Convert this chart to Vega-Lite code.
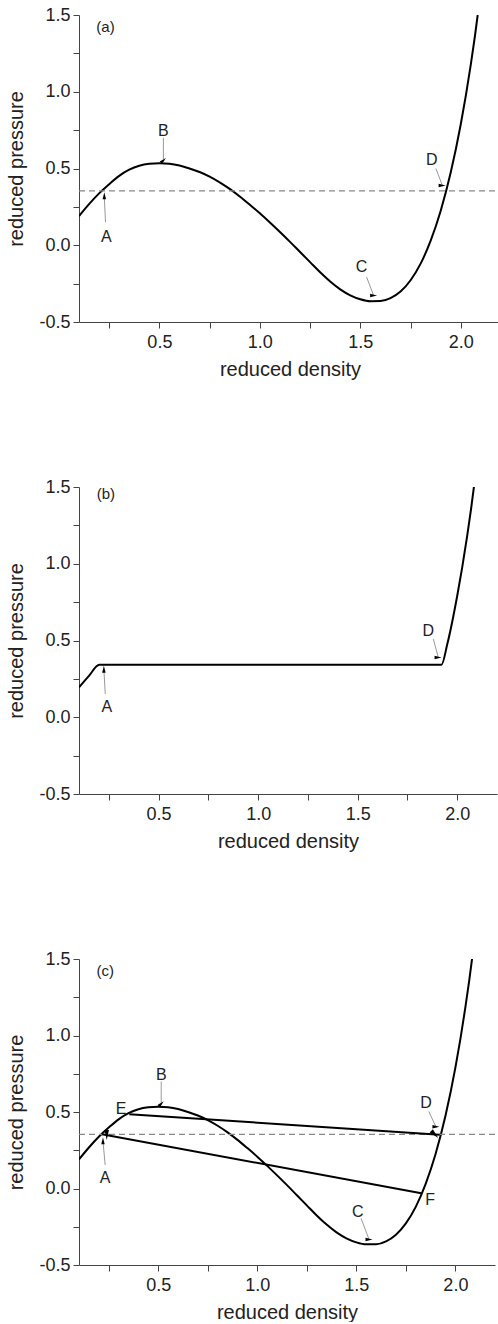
{
  "$schema": "https://vega.github.io/schema/vega-lite/v6.json",
  "background": "white",
  "padding": {"left": 6, "top": 6, "right": 0, "bottom": 0},
  "spacing": 99,
  "config": {
    "view": {"stroke": null},
    "font": "Liberation Sans",
    "axis": {
      "grid": false,
      "domainColor": "#444",
      "domainWidth": 1,
      "tickColor": "#444",
      "tickSize": 6,
      "labelColor": "#222",
      "titleColor": "#222",
      "labelFont": "Liberation Sans",
      "titleFont": "Liberation Sans",
      "labelFontSize": 18,
      "titleFontSize": 20,
      "titleFontWeight": "normal",
      "labelFlush": false,
      "labelOverlap": false
    }
  },
  "datasets": {
    "curve": [
      {"rho": 0.1, "p": 0.19}, {"rho": 0.15, "p": 0.268}, {"rho": 0.2, "p": 0.338}, {"rho": 0.25, "p": 0.398},
      {"rho": 0.3, "p": 0.452}, {"rho": 0.35, "p": 0.492}, {"rho": 0.4, "p": 0.518}, {"rho": 0.45, "p": 0.531},
      {"rho": 0.5, "p": 0.535}, {"rho": 0.55, "p": 0.531}, {"rho": 0.6, "p": 0.519}, {"rho": 0.65, "p": 0.5},
      {"rho": 0.7, "p": 0.477}, {"rho": 0.75, "p": 0.447}, {"rho": 0.8, "p": 0.41}, {"rho": 0.85, "p": 0.367},
      {"rho": 0.9, "p": 0.318}, {"rho": 0.95, "p": 0.264}, {"rho": 1.0, "p": 0.208}, {"rho": 1.05, "p": 0.148},
      {"rho": 1.1, "p": 0.086}, {"rho": 1.15, "p": 0.022}, {"rho": 1.2, "p": -0.044}, {"rho": 1.25, "p": -0.11},
      {"rho": 1.3, "p": -0.176}, {"rho": 1.35, "p": -0.236}, {"rho": 1.4, "p": -0.287}, {"rho": 1.45, "p": -0.326},
      {"rho": 1.5, "p": -0.352}, {"rho": 1.55, "p": -0.365}, {"rho": 1.6, "p": -0.364}, {"rho": 1.65, "p": -0.345},
      {"rho": 1.7, "p": -0.302}, {"rho": 1.75, "p": -0.228}, {"rho": 1.8, "p": -0.12}, {"rho": 1.85, "p": 0.03},
      {"rho": 1.9, "p": 0.225}, {"rho": 1.95, "p": 0.475}, {"rho": 2.0, "p": 0.79}, {"rho": 2.025, "p": 0.975},
      {"rho": 2.05, "p": 1.18}, {"rho": 2.07, "p": 1.36}, {"rho": 2.084, "p": 1.5}
    ],
    "maxwell": [
      {"rho": 0.1, "p": 0.195}, {"rho": 0.15, "p": 0.27}, {"rho": 0.202, "p": 0.342}, {"rho": 1.921, "p": 0.342},
      {"rho": 1.95, "p": 0.475}, {"rho": 2.0, "p": 0.79}, {"rho": 2.025, "p": 0.975},
      {"rho": 2.05, "p": 1.18}, {"rho": 2.07, "p": 1.36}, {"rho": 2.084, "p": 1.5}
    ],
    "level": [{"rho": 0.1, "rho2": 2.2, "p": 0.354, "p2": 0.354}],
    "labels": [
      {"panel": "a", "kind": "tag", "rho": 0.232, "p": 1.424, "text": "(a)"},
      {"panel": "a", "kind": "pt", "rho": 0.236, "p": 0.054, "text": "A"},
      {"panel": "a", "kind": "pt", "rho": 0.52, "p": 0.744, "text": "B"},
      {"panel": "a", "kind": "pt", "rho": 1.506, "p": -0.141, "text": "C"},
      {"panel": "a", "kind": "pt", "rho": 1.855, "p": 0.554, "text": "D"},
      {"panel": "b", "kind": "tag", "rho": 0.235, "p": 1.452, "text": "(b)"},
      {"panel": "b", "kind": "pt", "rho": 0.24, "p": 0.065, "text": "A"},
      {"panel": "b", "kind": "pt", "rho": 1.855, "p": 0.56, "text": "D"},
      {"panel": "c", "kind": "tag", "rho": 0.232, "p": 1.423, "text": "(c)"},
      {"panel": "c", "kind": "pt", "rho": 0.232, "p": 0.067, "text": "A"},
      {"panel": "c", "kind": "pt", "rho": 0.515, "p": 0.743, "text": "B"},
      {"panel": "c", "kind": "pt", "rho": 1.507, "p": -0.151, "text": "C"},
      {"panel": "c", "kind": "pt", "rho": 1.852, "p": 0.558, "text": "D"},
      {"panel": "c", "kind": "pt", "rho": 0.313, "p": 0.518, "text": "E"},
      {"panel": "c", "kind": "pt", "rho": 1.872, "p": -0.075, "text": "F"}
    ],
    "pointers": [
      {"panel": "a", "rho": 0.232, "p": 0.15, "rho2": 0.226, "p2": 0.31},
      {"panel": "a", "rho": 0.52, "p": 0.7, "rho2": 0.52, "p2": 0.56},
      {"panel": "a", "rho": 1.531, "p": -0.207, "rho2": 1.567, "p2": -0.33},
      {"panel": "a", "rho": 1.876, "p": 0.5, "rho2": 1.908, "p2": 0.39},
      {"panel": "b", "rho": 0.232, "p": 0.152, "rho2": 0.225, "p2": 0.31},
      {"panel": "b", "rho": 1.88, "p": 0.51, "rho2": 1.905, "p2": 0.39},
      {"panel": "c", "rho": 0.232, "p": 0.154, "rho2": 0.221, "p2": 0.31},
      {"panel": "c", "rho": 0.515, "p": 0.7, "rho2": 0.515, "p2": 0.556},
      {"panel": "c", "rho": 1.524, "p": -0.195, "rho2": 1.565, "p2": -0.336},
      {"panel": "c", "rho": 1.866, "p": 0.503, "rho2": 1.903, "p2": 0.4}
    ],
    "heads": [
      {"panel": "a", "kind": "small", "rho": 0.226, "p": 0.322, "dir": "up"},
      {"panel": "a", "kind": "small", "rho": 0.52, "p": 0.553, "dir": "down"},
      {"panel": "a", "kind": "small", "rho": 1.566, "p": -0.327, "dir": "downright"},
      {"panel": "a", "kind": "small", "rho": 1.907, "p": 0.39, "dir": "downright"},
      {"panel": "b", "kind": "small", "rho": 0.225, "p": 0.312, "dir": "up"},
      {"panel": "b", "kind": "small", "rho": 1.904, "p": 0.389, "dir": "downright"},
      {"panel": "c", "kind": "small", "rho": 0.221, "p": 0.312, "dir": "up"},
      {"panel": "c", "kind": "small", "rho": 0.515, "p": 0.554, "dir": "down"},
      {"panel": "c", "kind": "small", "rho": 1.564, "p": -0.334, "dir": "downright"},
      {"panel": "c", "kind": "small", "rho": 1.902, "p": 0.404, "dir": "downright"},
      {"panel": "c", "kind": "big", "rho": 1.896, "p": 0.353, "dir": "right"},
      {"panel": "c", "kind": "big", "rho": 0.24, "p": 0.349, "dir": "leftup"}
    ],
    "tielines": [
      {"rho": 0.354, "p": 0.486, "rho2": 1.921, "p2": 0.351},
      {"rho": 1.828, "p": -0.031, "rho2": 0.216, "p2": 0.355}
    ]
  },
  "vconcat": [
    {
      "width": 422,
      "height": 307,
      "encoding": {
        "x": {"field": "rho", "type": "quantitative", "title": "reduced density",
          "scale": {"domain": [0.1, 2.2], "nice": false, "zero": false},
          "axis": {"values": [0.25, 0.5, 0.75, 1.0, 1.25, 1.5, 1.75, 2.0],
            "labelExpr": "datum.value % 0.5 === 0 ? format(datum.value, '.1f') : ''",
            "encode": {"ticks": {"update": {"y2": {"signal": "datum.value % 0.5 === 0 ? 6 : 3"}}}},
            "labelPadding": 5, "titlePadding": 8}},
        "y": {"field": "p", "type": "quantitative", "title": "reduced pressure",
          "scale": {"domain": [-0.5, 1.5], "nice": false, "zero": false},
          "axis": {"values": [-0.5, -0.25, 0, 0.25, 0.5, 0.75, 1.0, 1.25, 1.5],
            "labelExpr": "datum.value % 0.5 === 0 ? (datum.value < 0 ? '-' + format(-datum.value, '.1f') : format(datum.value, '.1f')) : ''",
            "encode": {"ticks": {"update": {"x2": {"signal": "datum.value % 0.5 === 0 ? -6 : -3"}}}},
            "labelPadding": 3, "titlePadding": 12}}
      },
      "layer": [
        {
          "data": {"name": "curve"},
          "mark": {"type": "line", "color": "black", "strokeWidth": 2, "interpolate": "monotone", "clip": true}
        },
        {
          "data": {"name": "level"},
          "mark": {"type": "rule", "color": "#888", "strokeWidth": 1.3, "strokeDash": [6, 4]},
          "encoding": {"x2": {"field": "rho2"}, "y2": {"field": "p2"}}
        },
        {
          "data": {"name": "pointers"},
          "transform": [{"filter": "datum.panel === 'a'"}],
          "mark": {"type": "rule", "color": "#999", "strokeWidth": 1},
          "encoding": {"x2": {"field": "rho2"}, "y2": {"field": "p2"}}
        },
        {
          "data": {"name": "heads"},
          "transform": [{"filter": "datum.panel === 'a' && datum.kind === 'small'"}],
          "mark": {"type": "point", "shape": "M0,-1L0.5,1L-0.5,1Z", "filled": true, "color": "black", "opacity": 1, "size": 49, "strokeWidth": 0},
          "encoding": {
            "angle": {"field": "dir", "type": "nominal", "legend": null,
              "scale": {"domain": ["up", "down", "downright", "right", "leftup"], "range": [0, 180, 160, 94, 280.5]}}
          }
        },
        {
          "data": {"name": "labels"},
          "transform": [{"filter": "datum.panel === 'a' && datum.kind === 'pt'"}],
          "mark": {"type": "text", "fontSize": 16, "color": "#222", "align": "center", "baseline": "middle", "font": "Liberation Sans"},
          "encoding": {"text": {"field": "text"}}
        },
        {
          "data": {"name": "labels"},
          "transform": [{"filter": "datum.panel === 'a' && datum.kind === 'tag'"}],
          "mark": {"type": "text", "fontSize": 15, "color": "#222", "align": "center", "baseline": "middle", "font": "Liberation Sans"},
          "encoding": {"text": {"field": "text"}}
        }
      ]
    },
    {
      "width": 418,
      "height": 307,
      "encoding": {
        "x": {"field": "rho", "type": "quantitative", "title": "reduced density",
          "scale": {"domain": [0.1, 2.2], "nice": false, "zero": false},
          "axis": {"values": [0.25, 0.5, 0.75, 1.0, 1.25, 1.5, 1.75, 2.0],
            "labelExpr": "datum.value % 0.5 === 0 ? format(datum.value, '.1f') : ''",
            "encode": {"ticks": {"update": {"y2": {"signal": "datum.value % 0.5 === 0 ? 6 : 3"}}}},
            "labelPadding": 5, "titlePadding": 8}},
        "y": {"field": "p", "type": "quantitative", "title": "reduced pressure",
          "scale": {"domain": [-0.5, 1.5], "nice": false, "zero": false},
          "axis": {"values": [-0.5, -0.25, 0, 0.25, 0.5, 0.75, 1.0, 1.25, 1.5],
            "labelExpr": "datum.value % 0.5 === 0 ? (datum.value < 0 ? '-' + format(-datum.value, '.1f') : format(datum.value, '.1f')) : ''",
            "encode": {"ticks": {"update": {"x2": {"signal": "datum.value % 0.5 === 0 ? -6 : -3"}}}},
            "labelPadding": 3, "titlePadding": 12}}
      },
      "layer": [
        {
          "data": {"name": "maxwell"},
          "mark": {"type": "line", "color": "black", "strokeWidth": 2, "interpolate": "monotone", "clip": true}
        },
        {
          "data": {"name": "pointers"},
          "transform": [{"filter": "datum.panel === 'b'"}],
          "mark": {"type": "rule", "color": "#999", "strokeWidth": 1},
          "encoding": {"x2": {"field": "rho2"}, "y2": {"field": "p2"}}
        },
        {
          "data": {"name": "heads"},
          "transform": [{"filter": "datum.panel === 'b' && datum.kind === 'small'"}],
          "mark": {"type": "point", "shape": "M0,-1L0.5,1L-0.5,1Z", "filled": true, "color": "black", "opacity": 1, "size": 49, "strokeWidth": 0},
          "encoding": {
            "angle": {"field": "dir", "type": "nominal", "legend": null,
              "scale": {"domain": ["up", "down", "downright", "right", "leftup"], "range": [0, 180, 160, 94, 280.5]}}
          }
        },
        {
          "data": {"name": "labels"},
          "transform": [{"filter": "datum.panel === 'b' && datum.kind === 'pt'"}],
          "mark": {"type": "text", "fontSize": 16, "color": "#222", "align": "center", "baseline": "middle", "font": "Liberation Sans"},
          "encoding": {"text": {"field": "text"}}
        },
        {
          "data": {"name": "labels"},
          "transform": [{"filter": "datum.panel === 'b' && datum.kind === 'tag'"}],
          "mark": {"type": "text", "fontSize": 15, "color": "#222", "align": "center", "baseline": "middle", "font": "Liberation Sans"},
          "encoding": {"text": {"field": "text"}}
        }
      ]
    },
    {
      "width": 416,
      "height": 306,
      "encoding": {
        "x": {"field": "rho", "type": "quantitative", "title": "reduced density",
          "scale": {"domain": [0.1, 2.2], "nice": false, "zero": false},
          "axis": {"values": [0.25, 0.5, 0.75, 1.0, 1.25, 1.5, 1.75, 2.0],
            "labelExpr": "datum.value % 0.5 === 0 ? format(datum.value, '.1f') : ''",
            "encode": {"ticks": {"update": {"y2": {"signal": "datum.value % 0.5 === 0 ? 6 : 3"}}}},
            "labelPadding": 5, "titlePadding": 8}},
        "y": {"field": "p", "type": "quantitative", "title": "reduced pressure",
          "scale": {"domain": [-0.5, 1.5], "nice": false, "zero": false},
          "axis": {"values": [-0.5, -0.25, 0, 0.25, 0.5, 0.75, 1.0, 1.25, 1.5],
            "labelExpr": "datum.value % 0.5 === 0 ? (datum.value < 0 ? '-' + format(-datum.value, '.1f') : format(datum.value, '.1f')) : ''",
            "encode": {"ticks": {"update": {"x2": {"signal": "datum.value % 0.5 === 0 ? -6 : -3"}}}},
            "labelPadding": 3, "titlePadding": 12}}
      },
      "layer": [
        {
          "data": {"name": "curve"},
          "mark": {"type": "line", "color": "black", "strokeWidth": 2, "interpolate": "monotone", "clip": true}
        },
        {
          "data": {"name": "level"},
          "mark": {"type": "rule", "color": "#888", "strokeWidth": 1.3, "strokeDash": [6, 4]},
          "encoding": {"x2": {"field": "rho2"}, "y2": {"field": "p2"}}
        },
        {
          "data": {"name": "tielines"},
          "mark": {"type": "rule", "color": "black", "strokeWidth": 2},
          "encoding": {"x2": {"field": "rho2"}, "y2": {"field": "p2"}}
        },
        {
          "data": {"name": "pointers"},
          "transform": [{"filter": "datum.panel === 'c'"}],
          "mark": {"type": "rule", "color": "#999", "strokeWidth": 1},
          "encoding": {"x2": {"field": "rho2"}, "y2": {"field": "p2"}}
        },
        {
          "data": {"name": "heads"},
          "transform": [{"filter": "datum.panel === 'c' && datum.kind === 'small'"}],
          "mark": {"type": "point", "shape": "M0,-1L0.5,1L-0.5,1Z", "filled": true, "color": "black", "opacity": 1, "size": 49, "strokeWidth": 0},
          "encoding": {
            "angle": {"field": "dir", "type": "nominal", "legend": null,
              "scale": {"domain": ["up", "down", "downright", "right", "leftup"], "range": [0, 180, 160, 94, 280.5]}}
          }
        },
        {
          "data": {"name": "heads"},
          "transform": [{"filter": "datum.panel === 'c' && datum.kind === 'big'"}],
          "mark": {"type": "point", "shape": "M0,-1L0.45,1L-0.45,1Z", "filled": true, "color": "black", "opacity": 1, "size": 100, "strokeWidth": 0},
          "encoding": {
            "angle": {"field": "dir", "type": "nominal", "legend": null,
              "scale": {"domain": ["up", "down", "downright", "right", "leftup"], "range": [0, 180, 160, 94, 280.5]}}
          }
        },
        {
          "data": {"name": "labels"},
          "transform": [{"filter": "datum.panel === 'c' && datum.kind === 'pt'"}],
          "mark": {"type": "text", "fontSize": 16, "color": "#222", "align": "center", "baseline": "middle", "font": "Liberation Sans"},
          "encoding": {"text": {"field": "text"}}
        },
        {
          "data": {"name": "labels"},
          "transform": [{"filter": "datum.panel === 'c' && datum.kind === 'tag'"}],
          "mark": {"type": "text", "fontSize": 15, "color": "#222", "align": "center", "baseline": "middle", "font": "Liberation Sans"},
          "encoding": {"text": {"field": "text"}}
        }
      ]
    }
  ]
}
